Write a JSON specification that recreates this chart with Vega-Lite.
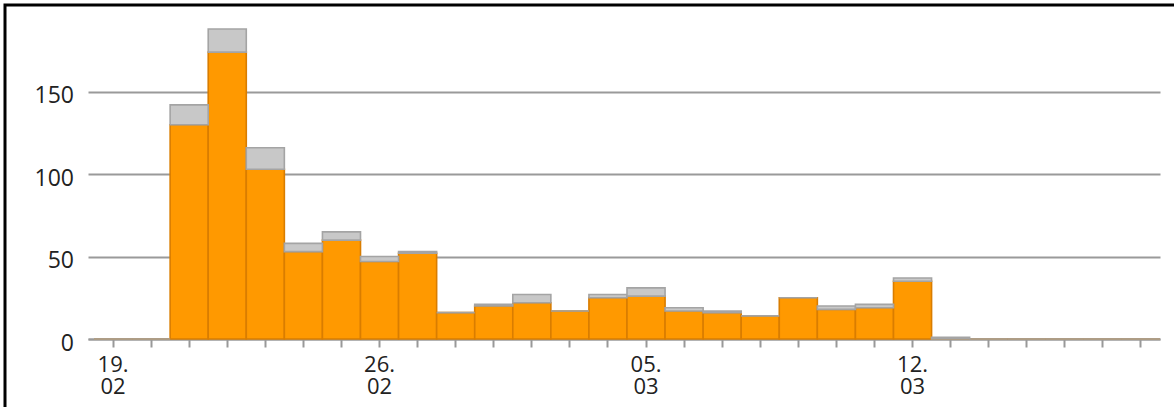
{
  "$schema": "https://vega.github.io/schema/vega-lite/v6.json",
  "autosize": "none",
  "padding": {"left": 5, "top": 5, "right": 0, "bottom": 0},
  "width": 1180,
  "height": 420,
  "background": "white",
  "config": {
    "view": {"stroke": "#000000", "strokeWidth": 3, "fill": "white"},
    "font": "Open Sans"
  },
  "data": {
    "values": [
      {"date": "19.02", "series": "A", "count": 0},
      {"date": "20.02", "series": "A", "count": 0},
      {"date": "21.02", "series": "A", "count": 130},
      {"date": "22.02", "series": "A", "count": 174},
      {"date": "23.02", "series": "A", "count": 103},
      {"date": "24.02", "series": "A", "count": 53},
      {"date": "25.02", "series": "A", "count": 60},
      {"date": "26.02", "series": "A", "count": 47},
      {"date": "27.02", "series": "A", "count": 52},
      {"date": "28.02", "series": "A", "count": 16},
      {"date": "01.03", "series": "A", "count": 20},
      {"date": "02.03", "series": "A", "count": 22},
      {"date": "03.03", "series": "A", "count": 17},
      {"date": "04.03", "series": "A", "count": 25},
      {"date": "05.03", "series": "A", "count": 26},
      {"date": "06.03", "series": "A", "count": 17},
      {"date": "07.03", "series": "A", "count": 16},
      {"date": "08.03", "series": "A", "count": 14},
      {"date": "09.03", "series": "A", "count": 25},
      {"date": "10.03", "series": "A", "count": 18},
      {"date": "11.03", "series": "A", "count": 19},
      {"date": "12.03", "series": "A", "count": 35},
      {"date": "13.03", "series": "A", "count": 0},
      {"date": "14.03", "series": "A", "count": 0},
      {"date": "15.03", "series": "A", "count": 0},
      {"date": "16.03", "series": "A", "count": 0},
      {"date": "17.03", "series": "A", "count": 0},
      {"date": "18.03", "series": "A", "count": 0},
      {"date": "19.02", "series": "B", "count": 0},
      {"date": "20.02", "series": "B", "count": 0},
      {"date": "21.02", "series": "B", "count": 12},
      {"date": "22.02", "series": "B", "count": 14},
      {"date": "23.02", "series": "B", "count": 13},
      {"date": "24.02", "series": "B", "count": 5},
      {"date": "25.02", "series": "B", "count": 5},
      {"date": "26.02", "series": "B", "count": 3},
      {"date": "27.02", "series": "B", "count": 1},
      {"date": "28.02", "series": "B", "count": 0},
      {"date": "01.03", "series": "B", "count": 1},
      {"date": "02.03", "series": "B", "count": 5},
      {"date": "03.03", "series": "B", "count": 0},
      {"date": "04.03", "series": "B", "count": 2},
      {"date": "05.03", "series": "B", "count": 5},
      {"date": "06.03", "series": "B", "count": 2},
      {"date": "07.03", "series": "B", "count": 1},
      {"date": "08.03", "series": "B", "count": 0},
      {"date": "09.03", "series": "B", "count": 0},
      {"date": "10.03", "series": "B", "count": 2},
      {"date": "11.03", "series": "B", "count": 2},
      {"date": "12.03", "series": "B", "count": 2},
      {"date": "13.03", "series": "B", "count": 1},
      {"date": "14.03", "series": "B", "count": 0},
      {"date": "15.03", "series": "B", "count": 0},
      {"date": "16.03", "series": "B", "count": 0},
      {"date": "17.03", "series": "B", "count": 0},
      {"date": "18.03", "series": "B", "count": 0}
    ]
  },
  "mark": {"type": "bar", "strokeWidth": 1.6},
  "encoding": {
    "x": {
      "field": "date",
      "type": "ordinal",
      "sort": null,
      "scale": {"range": [83, 1155], "paddingInner": 0, "paddingOuter": 0.0788, "align": 1},
      "axis": {
        "title": null,
        "offset": -86,
        "domainColor": "#999999",
        "domainWidth": 2,
        "tickColor": "#999999",
        "tickWidth": 2,
        "tickSize": 8,
        "labelAngle": 0,
        "labelOverlap": false,
        "labelFontSize": 22,
        "labelColor": "#222222",
        "labelPadding": 7,
        "labelLineHeight": 22.5,
        "labelExpr": "indexof(['19.02','26.02','05.03','12.03'], datum.value) >= 0 ? [slice(datum.value, 0, 3), slice(datum.value, 3)] : ''"
      }
    },
    "y": {
      "field": "count",
      "type": "quantitative",
      "stack": "zero",
      "scale": {"domain": [0, 202.6], "range": [334, 0], "nice": false},
      "axis": {
        "title": null,
        "offset": -68.5,
        "values": [0, 50, 100, 150],
        "domain": false,
        "ticks": false,
        "tickSize": 0,
        "labelPadding": 0,
        "labelOffset": 4,
        "labelFontSize": 23,
        "labelColor": "#222222",
        "grid": true,
        "gridColor": "#9a9a9a",
        "gridWidth": 2
      }
    },
    "color": {
      "field": "series",
      "type": "nominal",
      "scale": {"domain": ["A", "B"], "range": ["#ff9900", "#c8c8c8"]},
      "legend": null
    },
    "stroke": {
      "field": "series",
      "type": "nominal",
      "scale": {"domain": ["A", "B"], "range": ["#d97d00", "#a4a4a4"]},
      "legend": null
    },
    "order": {"field": "series", "sort": "ascending"}
  }
}
